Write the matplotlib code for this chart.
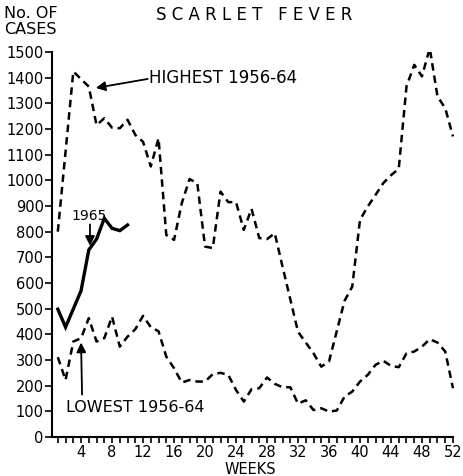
import matplotlib.pyplot as plt
from matplotlib.ticker import MultipleLocator

# weekly notifications
high_weeks = [1, 3, 5, 6, 7, 8, 9, 10, 11, 12, 13, 14, 15, 16, 17, 18, 19, 20,
              21, 22, 23, 24, 25, 26, 27, 28, 29, 30, 32, 34, 35, 36, 38, 39,
              40, 41, 42, 43, 44, 45, 46, 47, 48, 49, 50, 51, 52]
high_cases = [800, 1424, 1365, 1215, 1242, 1205, 1203, 1236, 1177, 1150, 1054,
              1164, 787, 768, 911, 1005, 989, 742, 736, 956, 915, 915, 807, 889,
              775, 771, 794, 664, 410, 326, 274, 294, 530, 586, 846, 898, 943,
              989, 1020, 1045, 1366, 1450, 1405, 1515, 1327, 1281, 1171]

low_weeks = list(range(1, 53))
low_cases = [311, 222, 372, 385, 463, 372, 385, 469, 352, 391, 420, 472, 428,
             412, 313, 268, 212, 222, 216, 216, 245, 250, 242, 183, 138, 186,
             190, 232, 207, 194, 194, 130, 143, 105, 112, 99, 103, 157, 177,
             216, 242, 281, 297, 277, 272, 326, 333, 352, 381, 368, 333, 190]

weeks_1965 = [1, 2, 3, 4, 5, 6, 7, 8, 9, 10]
cases_1965 = [498, 428, 499, 570, 729, 771, 852, 813, 804, 826]

plt.rcParams['font.family'] = 'DejaVu Sans'

fig = plt.figure(figsize=(4.63, 4.76), dpi=100)
ax = fig.add_axes([52 / 463, 39 / 476, 403 / 463, 385 / 476])

ax.plot(high_weeks, high_cases, color="k", lw=1.8, ls=(0, (3, 2)))
ax.plot(low_weeks, low_cases, color="k", lw=1.8, ls=(0, (3, 2)))
ax.plot(weeks_1965, cases_1965, color="k", lw=2.4, solid_joinstyle="miter")

ax.set_xlim(0.25, 52.26)
ax.set_ylim(0, 1500)
ax.spines["top"].set_visible(False)
ax.spines["right"].set_visible(False)
ax.spines["left"].set_linewidth(1.5)
ax.spines["bottom"].set_linewidth(1.5)
ax.spines["bottom"].set_bounds(0.25, 52)

ax.xaxis.set_minor_locator(MultipleLocator(1))
ax.set_xticks(range(4, 53, 4))
ax.yaxis.set_major_locator(MultipleLocator(100))
ax.tick_params(axis="both", which="both", direction="out", width=1.2,
               labelsize=10.5, colors="k")
ax.tick_params(axis="x", which="both", length=4, pad=2)
ax.tick_params(axis="y", length=5, pad=1)

fig.text(250 / 463, 1 - 469 / 476, "WEEKS", fontsize=10.5,
         ha="center", va="center")
fig.text(4 / 463, 1 - 14 / 476, "No. OF", fontsize=11.5, va="center")
fig.text(4 / 463, 1 - 30 / 476, "CASES", fontsize=11.5, va="center")
fig.text(254 / 463, 1 - 15 / 476, "S C A R L E T   F E V E R",
         fontsize=12, ha="center", va="center")

arrow = dict(arrowstyle="-|>", color="k", lw=1.3, mutation_scale=14,
             shrinkA=0, shrinkB=0)
ax.text(12.8, 1400, "HIGHEST 1956-64", fontsize=12, va="center")
ax.annotate("", xy=(5.9, 1360), xytext=(12.6, 1395), arrowprops=arrow)
ax.text(5.0, 860, "1965", fontsize=10, ha="center", va="center")
ax.annotate("", xy=(5.15, 745), xytext=(5.15, 828), arrowprops=arrow)
ax.text(2.06, 113, "LOWEST 1956-64", fontsize=11.5, va="center")
ax.annotate("", xy=(4.0, 368), xytext=(4.13, 165), arrowprops=arrow)

fig.savefig("out.png", dpi=100)
